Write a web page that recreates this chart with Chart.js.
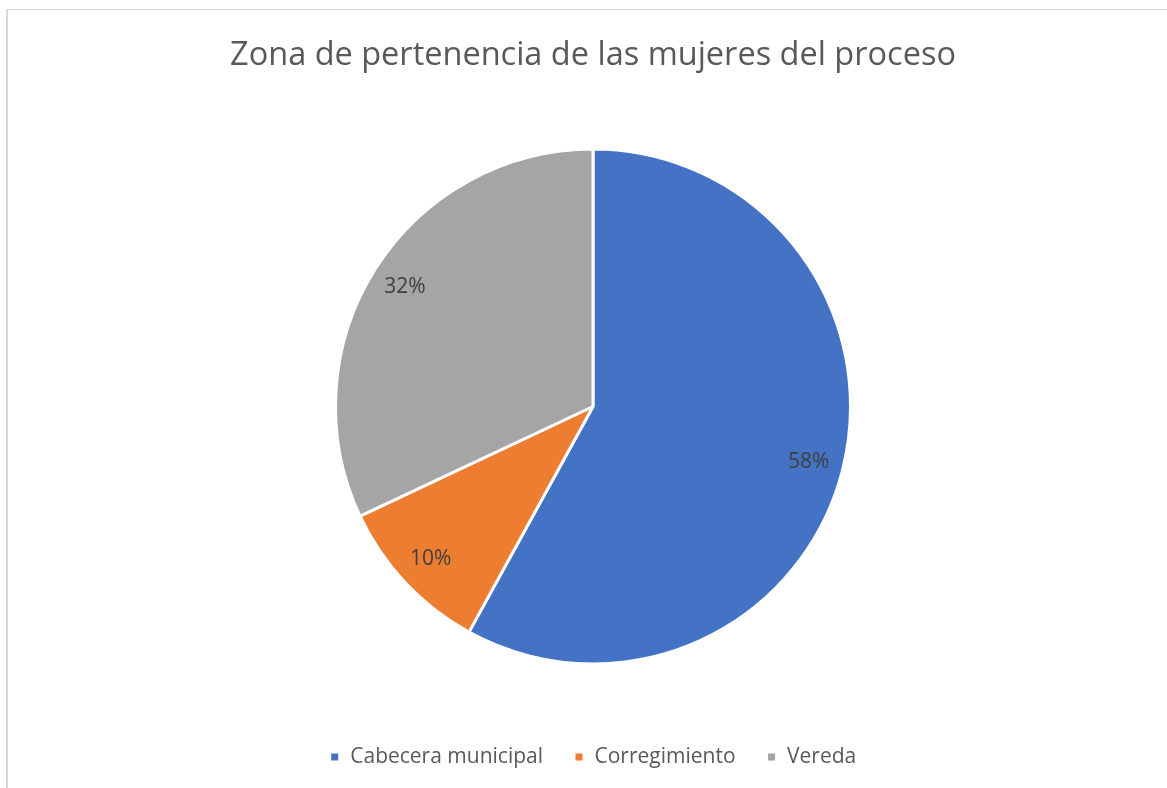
<!DOCTYPE html>
<html>
<head>
<meta charset="utf-8">
<script src="https://cdn.jsdelivr.net/npm/chart.js@4.4.1/dist/chart.umd.min.js"></script>
<style>
  html, body { margin: 0; padding: 0; background: #ffffff; overflow: hidden; width: 1167px; height: 788px; }
  #frame { position: absolute; left: 6px; top: 9px; width: 1200px; height: 800px; border-left: 2px solid #d9d9d9; border-top: 1px solid #d9d9d9; box-sizing: border-box; }
  #wrap { position: absolute; left: 8px; top: 10px; width: 1170px; height: 778px; }
</style>
</head>
<body>
<div id="frame"></div>
<div id="wrap"><canvas id="c"></canvas></div>
<script>
const titleText = "Zona de pertenencia de las mujeres del proceso";
const categories = ["Cabecera municipal", "Corregimiento", "Vereda"];
const values = [58, 10, 32];
const colors = ["#4472c4", "#ed7d31", "#a5a5a5"];
const FONT = "'Open Sans', 'DejaVu Sans', sans-serif";

const pieLabels = {
  id: 'pieLabels',
  afterDatasetsDraw(chart) {
    const ctx = chart.ctx;
    const meta = chart.getDatasetMeta(0);
    const total = values.reduce((a, b) => a + b, 0);
    ctx.save();
    ctx.font = "21px " + FONT;
    ctx.fillStyle = "#404040";
    ctx.textAlign = "center";
    ctx.textBaseline = "middle";
    meta.data.forEach((arc, i) => {
      const p = arc.getProps(['x', 'y', 'startAngle', 'endAngle', 'outerRadius'], true);
      const mid = (p.startAngle + p.endAngle) / 2;
      const r = p.outerRadius * 0.865;
      const pct = Math.round(values[i] / total * 100) + "%";
      ctx.fillText(pct, p.x + Math.cos(mid) * r, p.y + Math.sin(mid) * r);
    });
    ctx.restore();
  }
};

new Chart(document.getElementById('c'), {
  type: 'pie',
  data: {
    labels: categories,
    datasets: [{
      data: values,
      backgroundColor: colors,
      borderColor: "#ffffff",
      borderWidth: 3
    }]
  },
  options: {
    responsive: true,
    maintainAspectRatio: false,
    animation: false,
    layout: { padding: { top: 0, bottom: 10.5, left: 0, right: 0 } },
    plugins: {
      title: {
        display: true,
        text: titleText,
        color: "#595959",
        font: { family: FONT, size: 32.5, weight: 'normal', lineHeight: 1.2 },
        padding: { top: 26.5, bottom: 72 }
      },
      legend: {
        position: 'bottom',
        title: {
          display: true,
          text: ' ',
          font: { size: 1, lineHeight: 1 },
          padding: { top: 49, bottom: 0 }
        },
        labels: {
          color: "#595959",
          font: { family: FONT, size: 21 },
          boxWidth: 10,
          boxHeight: 10,
          padding: 31
        }
      },
      tooltip: { enabled: false }
    }
  },
  plugins: [pieLabels]
});
</script>
</body>
</html>
